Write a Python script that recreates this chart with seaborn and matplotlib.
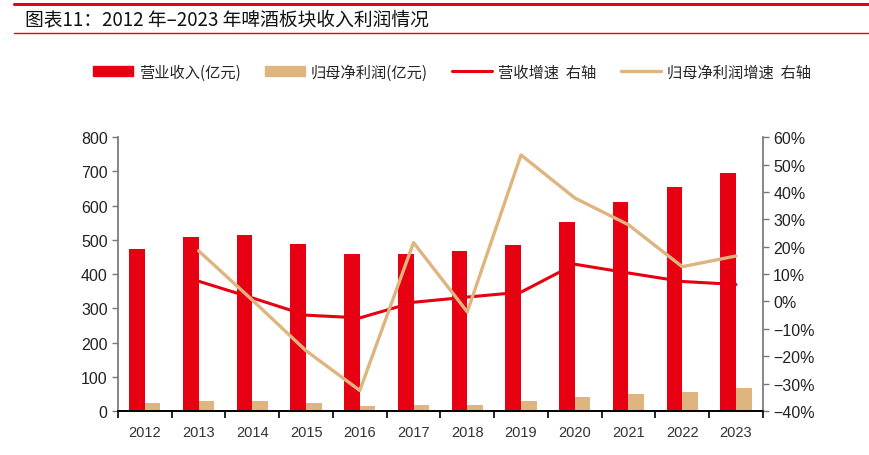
import numpy as np
import pandas as pd
import seaborn as sns
import matplotlib.pyplot as plt
from matplotlib.lines import Line2D
from matplotlib.patches import Patch
from matplotlib.ticker import FuncFormatter

years = ['2012', '2013', '2014', '2015', '2016', '2017', '2018', '2019', '2020', '2021', '2022', '2023']
revenue = [474, 507, 513, 488, 460, 460, 468, 485, 552, 610, 654, 694]
profit = [22, 28, 28, 22, 15, 17, 17, 28, 40, 51, 56, 67]
revenue_growth = [np.nan, 7.4, 1.3, -5.0, -6.0, -0.3, 1.6, 3.4, 13.6, 10.4, 7.3, 6.2]
profit_growth = [np.nan, 18.5, 0.5, -18.0, -32.5, 21.5, -3.8, 53.5, 37.8, 28.0, 12.7, 16.6]

RED = '#E60012'
TAN = '#DEB57F'

sns.set_theme(style='white')
plt.rcParams['font.family'] = ['Liberation Sans', 'Noto Sans CJK SC', 'DejaVu Sans']

df = pd.DataFrame({'year': years * 2,
                   'value': revenue + profit,
                   'kind': ['营业收入(亿元)'] * 12 + ['归母净利润(亿元)'] * 12})

fig = plt.figure(figsize=(8.69, 4.56), dpi=100)
ax = fig.add_axes([0.1358, 0.0965, 0.742, 0.6005])

sns.barplot(data=df, x='year', y='value', hue='kind', palette=[RED, TAN],
            width=0.58, gap=0, dodge=True, saturation=1, legend=False, linewidth=0, ax=ax)
ax.set_ylim(0, 800)
ax.set_xlim(-0.5, 11.5)
ax.set_yticks(range(0, 801, 100))
ax.set_xlabel('')
ax.set_ylabel('')

ax2 = ax.twinx()
x = np.arange(len(years))
sns.lineplot(x=x, y=revenue_growth, color=RED, linewidth=2.2, ax=ax2)
sns.lineplot(x=x, y=profit_growth, color=TAN, linewidth=2.4, ax=ax2)
ax2.set_ylim(-40, 60)
ax2.set_yticks(range(-40, 61, 10))
ax2.yaxis.set_major_formatter(FuncFormatter(lambda v, p: f'{v:.0f}%'.replace('-', '−')))
ax2.set_xlim(-0.5, 11.5)

# category boundary ticks on the x axis
ax.set_xticks(np.arange(-0.5, 12, 1))
ax.set_xticklabels([])
ax.set_xticks(x, minor=True)
ax.set_xticklabels(years, minor=True)
ax.tick_params(axis='x', which='major', direction='out', length=5, width=1.2, color='black', bottom=True)
ax.tick_params(axis='x', which='minor', length=0, labelsize=10.5, pad=10, colors='#333333')
ax.tick_params(axis='y', direction='out', length=4, width=1, color='#777777', left=True,
               labelsize=11.5, labelcolor='#222222')
ax2.tick_params(axis='y', direction='out', length=4, width=1, color='#777777', right=True,
                labelsize=11.5, labelcolor='#222222')

for a in (ax, ax2):
    a.spines['top'].set_visible(False)
    a.spines['left'].set_color('#777777')
    a.spines['right'].set_color('#777777')
    a.spines['bottom'].set_color('black')
    a.spines['bottom'].set_linewidth(1.2)
ax.spines['right'].set_visible(False)
ax2.spines['left'].set_visible(False)

handles = [Patch(color=RED), Patch(color=TAN),
           Line2D([0], [0], color=RED, lw=2.2), Line2D([0], [0], color=TAN, lw=2.4)]
labels = ['营业收入(亿元)', '归母净利润(亿元)', '营收增速  右轴', '归母净利润增速  右轴']
fig.legend(handles, labels, loc='center', bbox_to_anchor=(0.52, 0.84), ncol=4, frameon=False,
           handlelength=2.6, handleheight=0.55, columnspacing=1.6, handletextpad=0.4,
           prop={'family': ['Noto Sans CJK SC'], 'size': 11, 'weight': 'light'})

# header with red rules
fig.add_artist(Line2D([14 / 869, 1], [1 - 5 / 456, 1 - 5 / 456], color=RED, lw=2.2))
fig.add_artist(Line2D([14 / 869, 1], [1 - 34 / 456, 1 - 34 / 456], color=RED, lw=1))
fig.text(25 / 869, 1 - 20 / 456, '图表11：2012 年–2023 年啤酒板块收入利润情况', va='center', ha='left',
         fontsize=13.5, fontweight='medium', family=['Noto Sans CJK SC', 'DejaVu Sans'], color='#111111')

fig.savefig('out.png', dpi=100)
